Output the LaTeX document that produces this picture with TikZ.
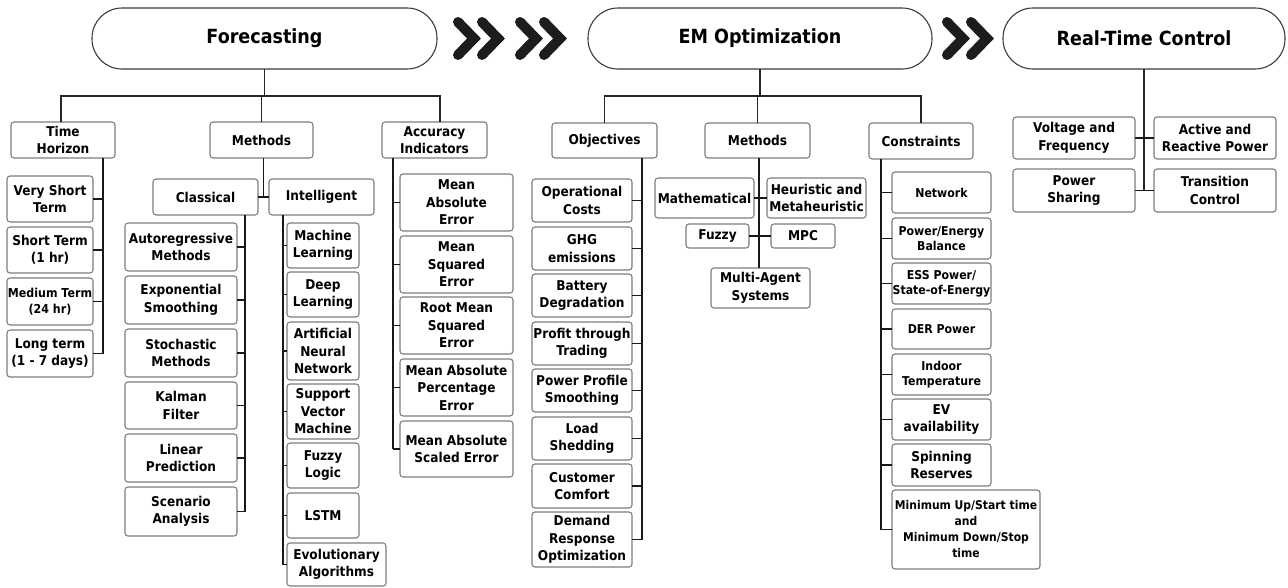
\documentclass[tikz,border=0pt]{standalone}
\usepackage{fontspec}
\setmainfont[FakeStretch=0.9]{DejaVu Sans}
\usetikzlibrary{calc}
\definecolor{boxgray}{RGB}{125,125,125}
\definecolor{pillgray}{RGB}{60,60,60}
\definecolor{chevc}{RGB}{28,28,28}
\newcommand{\bx}[7][]{\node[box,#1,minimum width={#5-#3},minimum height={#6-#4}] (#2) at ({(#3+#5)/2},{(#4+#6)/2}) {#7};}
\begin{document}
\begin{tikzpicture}[x=1pt,y=-1pt,
 box/.style={draw=boxgray,line width=1.1pt,rounded corners=3pt,inner sep=0pt,outer sep=0pt,align=center,font=\fontsize{13.5}{17.5}\selectfont\bfseries,text=black},
 small/.style={font=\fontsize{12.2}{15}\selectfont\bfseries},
 tiny/.style={font=\fontsize{12.3}{15.5}\selectfont\bfseries},
 pill/.style={draw=pillgray,line width=1.1pt,rounded corners=30pt,inner sep=0pt,outer sep=0pt,font=\fontsize{19.5}{22}\selectfont\bfseries},
 link/.style={line width=1.2pt,draw=black!85},
 trunk/.style={line width=1.9pt,draw=black!90},
 chev/.style={line width=10pt,draw=chevc,line cap=round,line join=miter}
]
\fill[white] (0,0) rectangle (1288,587);
\useasboundingbox (0,0) rectangle (1288,587);

% ---------- top pills ----------
\node[pill,minimum width=345,minimum height=61] (F) at (264.5,38.5) {Forecasting};
\node[pill,minimum width=344,minimum height=61] (EM) at (760,38.5) {EM Optimization};
\node[pill,minimum width=282,minimum height=61] (RT) at (1144,38.5) {Real-Time Control};

% chevrons
\foreach \x in {453,477,515,539,942,966}
  \draw[chev] (\x+5,22) -- (\x+21,38.5) -- (\x+5,55);

% ---------- Forecasting ----------
\bx{th}{11}{122}{115}{158}{Time\\Horizon}
\bx{fm}{210}{122}{313}{158}{Methods}
\bx{acc}{382}{122}{487}{158}{Accuracy\\Indicators}
\coordinate (fbar) at (0,96);
\draw[link] (F.south) -- (F.south |- fbar);
\draw[link] ([xshift=-2pt]th.north) -- ([xshift=-2pt]th.north |- fbar) -- ([xshift=5.5pt]acc.north |- fbar) -- ([xshift=5.5pt]acc.north);
\draw[link] (fm.north) -- (fm.north |- fbar);

% time horizon
\bx{vst}{7}{176}{93}{222}{Very Short\\Term}
\bx{st}{7}{227}{93}{273}{Short Term\\(1 hr)}
\bx[tiny]{mt}{7}{278}{93}{325}{Medium Term\\(24 hr)}
\bx{lt}{7}{330}{93}{377}{Long term\\(1 - 7 days)}
\coordinate (thx) at (103,0);
\draw[trunk] (th.south -| thx) -- (lt.east -| thx);
\foreach \n in {vst,st,mt,lt} \draw[trunk] (\n.east) -- (\n.east -| thx);

% methods
\bx{cl}{153}{179}{258}{215}{Classical}
\bx{in}{269}{179}{374}{215}{Intelligent}
\draw[trunk] ([xshift=2pt]fm.south) -- ([xshift=2pt]fm.south |- cl.east);
\draw[trunk] (cl.east) -- (in.west);

\bx{ar}{125}{223}{237}{271}{Autoregressive\\Methods}
\bx{es}{125}{276}{237}{324}{Exponential\\Smoothing}
\bx{sm}{125}{329}{237}{377}{Stochastic\\Methods}
\bx{kf}{125}{382}{237}{429}{Kalman\\Filter}
\bx{lp}{125}{434}{237}{482}{Linear\\Prediction}
\bx{sa}{125}{487}{237}{536}{Scenario\\Analysis}
\coordinate (clx) at (245,0);
\draw[trunk] (cl.south -| clx) -- (sa.east -| clx);
\foreach \n in {ar,es,sm,kf,lp,sa} \draw[trunk] (\n.east) -- (\n.east -| clx);

\bx{ml}{287}{223}{359}{268}{Machine\\Learning}
\bx{dl}{287}{272}{359}{317}{Deep\\Learning}
\bx{ann}{287}{322}{359}{380}{Artificial\\Neural\\Network}
\bx{svm}{287}{384}{359}{439}{Support\\Vector\\Machine}
\bx{fl}{287}{443}{359}{488}{Fuzzy\\Logic}
\bx{lstm}{287}{493}{359}{538}{LSTM}
\bx{ea}{287}{543}{386}{586}{Evolutionary\\Algorithms}
\coordinate (inx) at (283,0);
\draw[trunk] (in.south -| inx) -- (ea.west -| inx);
\foreach \n in {ml,dl,ann,svm,fl,lstm,ea} \draw[trunk] (\n.west) -- (\n.west -| inx);

% accuracy
\bx{mae}{400}{174}{513}{231}{Mean\\Absolute\\Error}
\bx{mse}{400}{236}{513}{293}{Mean\\Squared\\Error}
\bx{rmse}{400}{297}{513}{354}{Root Mean\\Squared\\Error}
\bx{mape}{400}{359}{513}{416}{Mean Absolute\\Percentage\\Error}
\bx{mase}{400}{421}{513}{477}{Mean Absolute\\Scaled Error}
\coordinate (accx) at (393,0);
\draw[trunk] (acc.south -| accx) -- (mase.west -| accx);
\foreach \n in {mae,mse,rmse,mape,mase} \draw[trunk] (\n.west) -- (\n.west -| accx);

% ---------- EM Optimization ----------
\bx{obj}{552}{123}{657}{158}{Objectives}
\bx{em}{705}{123}{810}{158}{Methods}
\bx{cons}{869}{123}{973}{159}{Constraints}
\draw[link] (EM.south) -- (EM.south |- fbar);
\draw[link] (obj.north) -- (obj.north |- fbar) -- (cons.north |- fbar) -- (cons.north);
\draw[link] (em.north) -- (em.north |- fbar);

\bx{oc}{532}{179}{632}{222}{Operational\\Costs}
\bx{ghg}{532}{227}{632}{270}{GHG\\emissions}
\bx{bd}{532}{274}{632}{317}{Battery\\Degradation}
\bx{pt}{532}{322}{632}{365}{Profit through\\Trading}
\bx{pps}{532}{369}{632}{412}{Power Profile\\Smoothing}
\bx{ls}{532}{417}{632}{460}{Load\\Shedding}
\bx{cc}{532}{464}{632}{508}{Customer\\Comfort}
\bx{dr}{532}{512}{632}{567}{Demand\\Response\\Optimization}
\coordinate (objx) at (642,0);
\draw[trunk] (obj.south -| objx) -- (dr.east -| objx);
\foreach \n in {oc,ghg,bd,pt,pps,ls,cc,dr} \draw[trunk] (\n.east) -- (\n.east -| objx);

\bx{math}{655}{178}{754}{218}{Mathematical}
\bx{heu}{767}{178}{866}{218}{Heuristic and\\Metaheuristic}
\bx{fz}{686}{224}{749}{248}{Fuzzy}
\bx{mpc}{771}{224}{835}{248}{MPC}
\bx{ma}{711}{268}{810}{308}{Multi-Agent\\Systems}
\coordinate (emx) at (759,0);
\draw[trunk] (em.south -| emx) -- (ma.north -| emx);
\draw[trunk] (math.east) -- (heu.west);
\draw[trunk] (fz.east) -- (mpc.west);

\bx[small]{net}{892}{172}{991}{213}{Network}
\bx[small]{peb}{892}{218}{991}{259}{Power/Energy\\Balance}
\bx[small]{ess}{892}{263}{991}{304}{ESS Power/\\State-of-Energy}
\bx[small]{der}{892}{309}{991}{349}{DER Power}
\bx[small]{ind}{892}{354}{991}{395}{Indoor\\Temperature}
\bx{ev}{892}{399}{991}{440}{EV\\availability}
\bx{sr}{892}{444}{991}{486}{Spinning\\Reserves}
\bx[font=\fontsize{12}{16}\selectfont\bfseries]{mut}{892}{490}{1040}{569}{Minimum Up/Start time\\and\\Minimum Down/Stop\\time}
\coordinate (consx) at (881,0);
\draw[trunk] (cons.south -| consx) -- (mut.west -| consx);
\foreach \n in {net,peb,ess,der,ind,ev,sr,mut} \draw[trunk] (\n.west) -- (\n.west -| consx);

% ---------- Real-Time Control ----------
\bx{vf}{1013}{117}{1135}{159}{Voltage and\\Frequency}
\bx{arp}{1154}{117}{1276}{159}{Active and\\Reactive Power}
\bx{ps}{1013}{169}{1135}{212}{Power\\Sharing}
\bx{tc}{1154}{169}{1276}{212}{Transition\\Control}
\draw[link] (RT.south) -- (RT.south |- ps.east);
\draw[trunk] (vf.east) -- (arp.west);
\draw[trunk] (ps.east) -- (tc.west);
\end{tikzpicture}
\end{document}
